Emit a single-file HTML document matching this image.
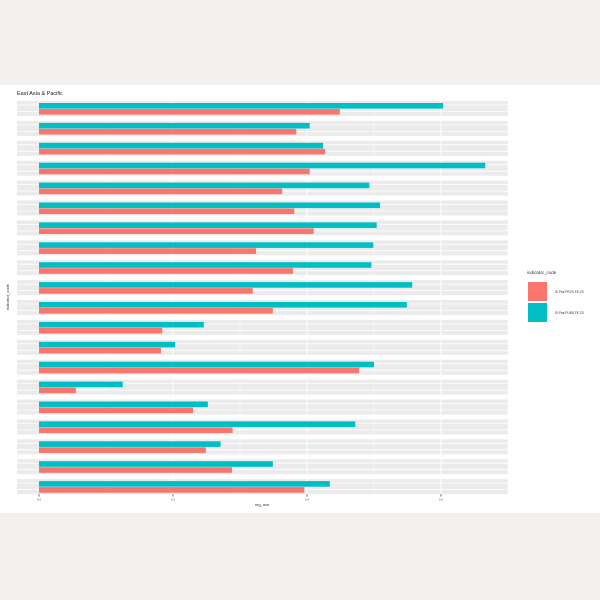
<!DOCTYPE html>
<html><head><meta charset="utf-8"><style>
html,body{margin:0;padding:0;background:#f2f1ed;}
svg{display:block;font-family:"Liberation Sans",sans-serif;}
</style></head><body>
<svg id="chart" width="600" height="600">
<rect x="0" y="85" width="600" height="428" fill="#ffffff"/>
<text x="17" y="95" font-size="5.5" fill="#222">East Asia &amp; Pacific</text>
<g id="panel"></g>
<text x="262" y="506" font-size="4" fill="#333" text-anchor="middle">reg_ave</text>
<text transform="translate(9,297) rotate(-90)" font-size="4" fill="#333" text-anchor="middle">indicator_code</text>
<g>
<text x="527" y="274" font-size="4.5" fill="#333">indicator_code</text>
<rect x="528" y="282" width="19" height="19" fill="#f8766d"/>
<text x="555" y="293" font-size="3.2" fill="#333">SI.Pair.PRVS.FE.ZS</text>
<rect x="528" y="303" width="19" height="19" fill="#00bfc4"/>
<text x="555" y="314" font-size="3.2" fill="#333">SI.Pair.PUBS.FE.ZS</text>
</g>
</svg>
<script>
const categories = ["c1","c2","c3","c4","c5","c6","c7","c8","c9","c10","c11","c12","c13","c14","c15","c16","c17","c18","c19","c20"];
const tealValues = [0.603,0.404,0.424,0.666,0.493,0.509,0.504,0.499,0.496,0.557,0.549,0.246,0.203,0.500,0.125,0.252,0.472,0.271,0.349,0.434];
const pinkValues = [0.449,0.384,0.427,0.404,0.363,0.381,0.410,0.324,0.379,0.319,0.349,0.184,0.182,0.478,0.055,0.230,0.289,0.249,0.288,0.396];
const tickValues = [0,0.2,0.4,0.6];
const tickLabels = ["0.0","0.2","0.4","0.6"];
const NS="http://www.w3.org/2000/svg";
const g=document.getElementById('panel');
const x0=39, scale=670, left=17, right=508, top0=101, pitch=19.9;
const xs=v=>x0+v*scale;
function mk(tag,attrs){const e=document.createElementNS(NS,tag);for(const k in attrs)e.setAttribute(k,attrs[k]);g.appendChild(e);return e;}
categories.forEach((c,i)=>{
  const y=top0+i*pitch;
  const bg=mk('rect',{x:left,y:y,width:right-left,height:15,fill:'#ebebeb'});
  
  
  [y+4,y+10.5].forEach(ly=>{const l=mk('line',{x1:left,x2:right,y1:ly,y2:ly,stroke:'#fff','stroke-width':0.8});
    
    });
});
for(let v=0.1;v<0.71;v+=0.1){
  const l=mk('line',{x1:xs(v),x2:xs(v),y1:top0,y2:top0+19*pitch+15,stroke:'#fff','stroke-width':(Math.round(v*10)%2===0)?1:0.5});
  
  
}
categories.forEach((c,i)=>{
  const y=top0+i*pitch;
  const t=mk('rect',{x:xs(0),y:y+2,width:xs(tealValues[i])-xs(0),height:5.6,fill:'#00bfc4'});
  
  
  const p=mk('rect',{x:xs(0),y:y+8,width:xs(pinkValues[i])-xs(0),height:5.6,fill:'#f8766d'});
  
  
});
const axisY=top0+19*pitch+15;
tickValues.forEach((v,i)=>{
  const tk=mk('line',{x1:xs(v),x2:xs(v),y1:axisY,y2:axisY+2.5,stroke:'#333','stroke-width':0.7});
  
  
  const tx=mk('text',{x:xs(v),y:axisY+6.5,'font-size':3,fill:'#555','text-anchor':'middle'});
  tx.textContent=tickLabels[i];
  
  
});
</script>
</body></html>
